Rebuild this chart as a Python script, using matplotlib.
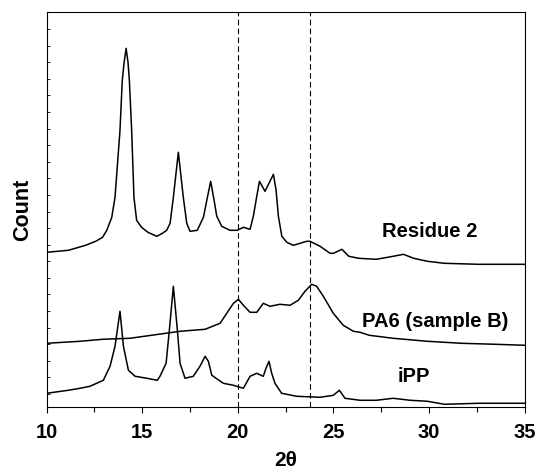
import numpy as np
import matplotlib
matplotlib.use("Agg")
import matplotlib.pyplot as plt

plt.rcParams['font.family'] = ['Liberation Sans', 'DejaVu Sans']

# Residue 2
res_x = [10.00, 11.14, 12.04, 12.57, 12.93, 13.15, 13.41, 13.58, 13.84, 13.96, 14.05, 14.16, 14.26, 14.33,
         14.45, 14.57, 14.71, 14.97, 15.30, 15.76, 16.06, 16.28, 16.46, 16.63, 16.89, 17.15, 17.33, 17.50,
         17.88, 18.20, 18.41, 18.58, 18.76, 18.90, 19.16, 19.59, 19.97, 20.29, 20.64, 20.81, 20.99, 21.13,
         21.42, 21.86, 22.00, 22.12, 22.30, 22.56, 22.90, 23.60, 23.77, 24.30, 24.82, 25.00, 25.44, 25.80,
         26.33, 27.23, 28.12, 28.66, 29.19, 29.91, 30.80, 32.59, 35.00]
res_y = [155, 157, 162, 166, 170, 177, 190, 210, 277, 327, 344, 359, 345, 327,
         277, 210, 187, 180, 175, 171, 174, 177, 184, 210, 255, 210, 184, 176,
         177, 190, 210, 226, 207, 191, 181, 177, 177, 180, 178, 191, 211, 226,
         216, 233, 217, 191, 171, 165, 162, 166, 166, 161, 154, 154, 158, 151,
         149, 148, 151, 153, 149, 146, 144, 143, 143]

# PA6 (sample B)
pa6_x = [10.00, 11.75, 12.93, 14.36, 16.98, 18.29, 19.07, 19.42, 19.77, 20.03, 20.29, 20.64, 20.99, 21.33,
         21.68, 22.20, 22.73, 23.16, 23.51, 23.86, 24.12, 24.47, 24.99, 25.51, 26.04, 26.39, 26.87, 28.12,
         29.91, 31.69, 33.48, 35.00]
pa6_y = [64, 66, 68, 69, 76, 78, 84, 94, 104, 108, 102, 95, 95, 104,
         101, 103, 102, 107, 116, 123, 121, 111, 94, 82, 76, 75, 72, 69,
         66, 64, 63, 62]

# iPP
ipp_x = [10.00, 11.14, 11.75, 12.27, 12.97, 13.32, 13.58, 13.84, 14.02, 14.28, 14.63, 15.25, 15.79, 15.93,
         16.25, 16.42, 16.63, 16.84, 16.98, 17.24, 17.67, 18.02, 18.29, 18.46, 18.64, 19.24, 19.77, 20.29,
         20.64, 20.99, 21.33, 21.47, 21.63, 21.77, 21.94, 22.29, 23.08, 24.30, 24.99, 25.31, 25.60, 26.39,
         27.23, 28.12, 29.01, 29.91, 30.80, 32.59, 35.00]
ipp_y = [14, 17, 19, 21, 27, 41, 61, 96, 61, 37, 31, 29, 27, 31,
         44, 77, 121, 77, 44, 29, 31, 41, 51, 46, 32, 24, 22, 19,
         31, 34, 31, 39, 46, 34, 24, 14, 11, 10, 12, 17, 9, 7,
         7, 9, 7, 6, 3, 4, 4]

dashed_x = [20.0, 23.75]
labels = ["Residue 2", "PA6 (sample B)", "iPP"]
label_pos = [(30.05, 176), (30.3, 86), (29.2, 31)]

fig = plt.figure(figsize=(5.36, 4.69), dpi=100)
ax = fig.add_axes([0.0868, 0.1316, 0.8923, 0.8421])

for xs, ys in [(res_x, res_y), (pa6_x, pa6_y), (ipp_x, ipp_y)]:
    ax.plot(xs, ys, color='black', lw=1.1)

for xv in dashed_x:
    ax.axvline(xv, color='black', lw=0.8, ls=(0, (5, 3)))

for t, (tx, ty) in zip(labels, label_pos):
    ax.text(tx, ty, t, ha='center', va='center', fontsize=14.5, fontweight='bold')

ax.set_xlim(10, 35)
ax.set_ylim(0, 395)
ax.set_xticks([10, 15, 20, 25, 30, 35])
ax.set_xticks(np.arange(10, 35.1, 2.5), minor=True)
ax.set_yticks(np.arange(395, 0, -16.6))
ax.set_yticklabels([])
ax.tick_params(axis='x', which='major', direction='out', length=4.5, width=0.8,
               labelsize=14.5, pad=7)
ax.tick_params(axis='x', which='minor', direction='out', length=3.5, width=0.8)
ax.tick_params(axis='y', which='major', direction='in', length=2, width=0.6)
for lbl in ax.get_xticklabels():
    lbl.set_fontweight('bold')
ax.set_xlabel('2θ', fontsize=15, fontweight='bold', labelpad=6)
ax.set_ylabel('Count', fontsize=15.5, fontweight='bold', labelpad=6)
for s in ax.spines.values():
    s.set_linewidth(0.8)

fig.savefig('out.png', dpi=100)
